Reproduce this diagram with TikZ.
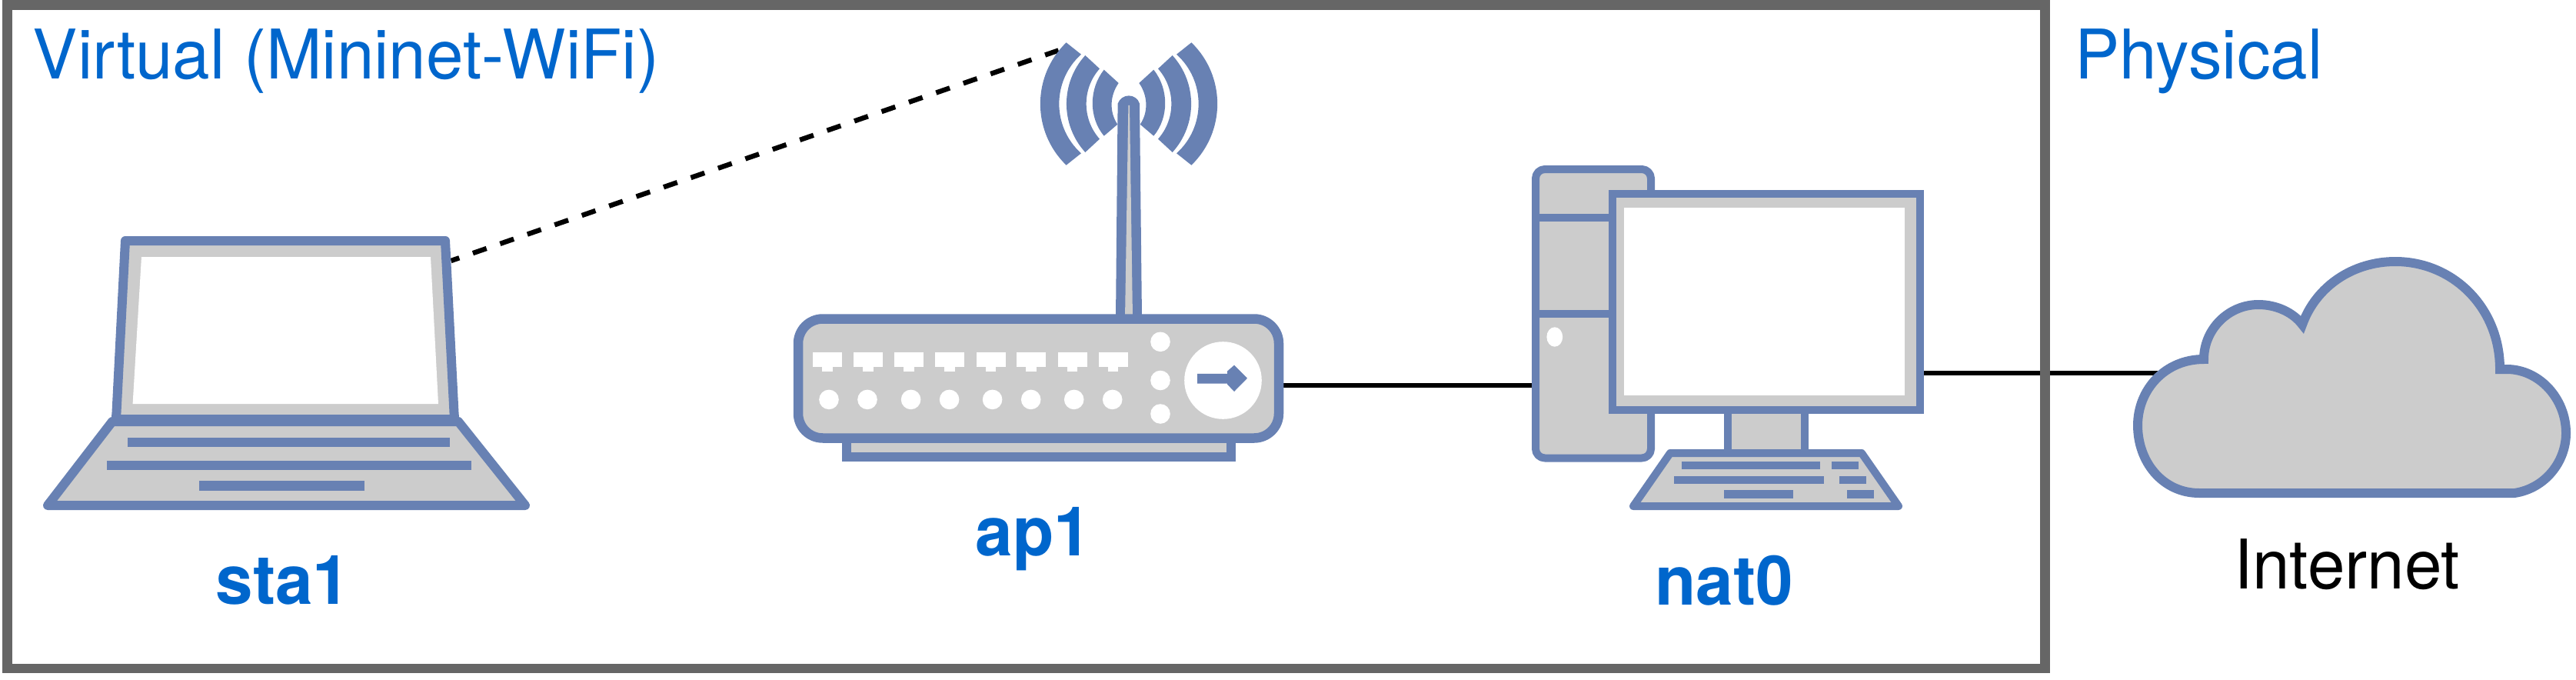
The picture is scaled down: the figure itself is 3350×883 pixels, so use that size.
\documentclass[tikz,border=0pt]{standalone}
\usepackage{fontspec}
\setmainfont[FakeStretch=0.98]{TeX Gyre Heros}
\definecolor{devblue}{HTML}{6881B3}
\definecolor{devgrey}{HTML}{CCCCCC}
\definecolor{labelblue}{HTML}{0066CC}
\definecolor{framegrey}{HTML}{666666}
\tikzset{
  devshape/.style={draw=devblue,fill=devgrey,line width=#1,line join=round},
  devshape/.default=6pt,
  devbar/.style={fill=devblue,draw=none},
  holefill/.style={fill=white,draw=none},
  greyfill/.style={fill=devgrey,draw=none},
  link/.style={draw=black,line width=3pt},
  wirelesslink/.style={link,line width=3.2pt,dash pattern=on 9.4pt off 9.35pt,dash phase=3.7pt},
  frameline/.style={draw=framegrey,line width=6.25pt},
  txt/.style={anchor=base,inner sep=0pt,font=\fontsize{44.5}{50}\selectfont},
  zonelabel/.style={txt,text=labelblue},
  devlabel/.style={txt,text=labelblue,font=\fontsize{44.5}{50}\selectfont\bfseries},
  plainlabel/.style={txt,text=black}
}
\begin{document}
\begin{tikzpicture}[x=0.5pt,y=-0.5pt]
\useasboundingbox (0,0) rectangle (3350,883);
% attachment points
\coordinate (sta1port) at (586.5,339);
\coordinate (ap1wave) at (1376.5,65.5);
\coordinate (ap1port) at (1665,501);
\coordinate (nat0port) at (1995,501);
\coordinate (nat0out) at (2498,485);
\coordinate (cloudport) at (2806,485);
% connectors
\draw[wirelesslink] (sta1port) -- (ap1wave);
\draw[link] (ap1port) -- (nat0port);
\draw[link] (nat0out) -- (cloudport);
% frame
\draw[frameline] (9.5,6.5) rectangle (2659.5,869);
% labels
\node[zonelabel] (virtual) at (450,102.7) {Virtual (Mininet-WiFi)};
\node[zonelabel] (physical) at (2859.5,102.7) {Physical};
\node[devlabel] (sta1) at (368,785) {sta1};
\node[devlabel] (ap1) at (1344,722.7) {ap1};
\node[devlabel] (nat0) at (2242,786) {nat0};
\node[plainlabel] (internet) at (3052,765.7) {Internet};
% ---- laptop
\draw[devshape] (146,548) -- (596,548) -- (683,657) -- (62,657) -- cycle;
\draw[devshape] (151,546) -- (163,313) -- (579,313) -- (591,546) -- cycle;
\fill[holefill] (184,334) -- (560,334) -- (570,525) -- (172.6,525) -- cycle;
\fill[devbar] (145,539) rectangle (597,554);
\fill[devbar] (166,569) rectangle (585,581);
\fill[devbar] (139,599) rectangle (613,611);
\fill[devbar] (259,625) rectangle (474,638);
% ---- access point: waves
\foreach \s in {1,-1}{
\begin{scope}[shift={(1468,135)},xscale=\s]
\fill[devbar] (-32.3,-44.3) .. controls (-52.2,-19.3) and (-52.2,18) .. (-32.3,41.7) -- (-14.7,26.7) .. controls (-25.7,10.5) and (-24.7,-10.8) .. (-13.3,-27) -- cycle;
\fill[devbar] (-56.7,-63) .. controls (-89.2,-27.2) and (-89.2,27.2) .. (-56.7,63) -- (-38,45.7) .. controls (-61.1,19.6) and (-61.1,-19.6) .. (-38,-45.7) -- cycle;
\fill[devbar] (-81.4,-79.7) .. controls (-126.4,-36) and (-126.4,36) .. (-81.4,79.7) -- (-62,64.3) .. controls (-100.2,29.9) and (-100.2,-29.9) .. (-62,-64.3) -- cycle;
\end{scope}}
% antenna
\fill[devbar] (1451,414) -- (1453.6,134.7) .. controls (1456,128) and (1462,124.4) .. (1468,124.4) .. controls (1474,124.4) and (1480,128) .. (1482,134.7) -- (1485,414) -- cycle;
\fill[greyfill] (1463,414) -- (1467.4,137) -- (1469,137) -- (1473,414) -- cycle;
% stand and body
\draw[devshape=6.25pt,line join=miter] (1101,569) rectangle (1601,594);
\draw[devshape=6.25pt,rounded corners=16pt] (1038,414.5) rectangle (1663,569.5);
% ports
\foreach \x in {1057,1110,1163,1216,1269.5,1322,1375.6,1428.8}{
  \fill[holefill] (\x,457.7) rectangle ++(38,19);
  \fill[holefill] (\x+12,470) rectangle ++(13.5,13);
}
\foreach \x in {1078,1128,1184.6,1234.6,1290.6,1340.7,1396.7,1446.7}{
  \fill[holefill] (\x,519.4) circle[radius=12.8];
}
\fill[holefill] (1509,444.3) circle[radius=12.8];
\fill[holefill] (1509,494.5) circle[radius=12.8];
\fill[holefill] (1509,538) circle[radius=12.8];
\fill[holefill] (1590.5,494.5) circle[radius=50.3];
\fill[devbar] (1557,485.8) -- (1596,485.8) -- (1596,482.6) -- (1605,474.7) -- (1622,491.7) -- (1605,509) -- (1596,499.6) -- (1596,498.5) -- (1557,498.5) -- cycle;
% ---- nat0: tower
\draw[devshape=5pt,rounded corners=6pt] (1997,220) rectangle (2147,595.5);
\fill[devbar] (1997,278) rectangle (2100,288);
\fill[devbar] (1997,403) rectangle (2100,413);
\fill[holefill] (2021.8,438) ellipse[x radius=10.4,y radius=12.7];
% neck and keyboard
\draw[devshape=5pt,line join=miter] (2247,530) rectangle (2347,590);
\draw[devshape=5pt] (2172,589) -- (2421,589) -- (2469,658) -- (2124,658) -- cycle;
\fill[devbar] (2186.8,600) rectangle (2367,610);
\fill[devbar] (2381.8,600) rectangle (2417,610);
\fill[devbar] (2176.8,618.7) rectangle (2372,628.7);
\fill[devbar] (2391.8,618.7) rectangle (2427,628.7);
\fill[devbar] (2242,637) rectangle (2332,647.7);
\fill[devbar] (2401.8,637) rectangle (2437,647.7);
% monitor
\draw[devshape=5pt,line join=miter] (2097,252) rectangle (2497,533);
\fill[holefill] (2111.8,270) rectangle (2477,514);
% ---- cloud
\draw[devshape,line join=miter] (2860,641)
  .. controls (2812,641) and (2780,600) .. (2780,553)
  .. controls (2780,507) and (2815,467) .. (2866,467)
  .. controls (2866,428) and (2898,396) .. (2937,396)
  .. controls (2960,396) and (2982,406) .. (2994,422)
  .. controls (3012,372) and (3060,340) .. (3115,340)
  .. controls (3190,340) and (3251,400) .. (3251,480)
  .. controls (3254,480) and (3257,480) .. (3260,480)
  .. controls (3302,480) and (3337,518) .. (3337,563)
  .. controls (3337,600) and (3310,635) .. (3270,641)
  -- cycle;
\end{tikzpicture}
\end{document}
